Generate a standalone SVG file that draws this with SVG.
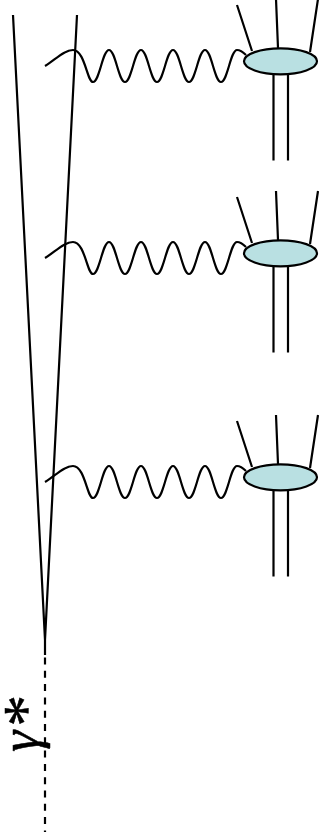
<svg xmlns="http://www.w3.org/2000/svg" width="323" height="840" viewBox="0 0 323 840">
<style>
.l{fill:none;stroke:#000;stroke-width:2.200}
.b{fill:#b9e0e2;stroke:#000;stroke-width:2.200}
.t{font-family:"Liberation Serif","DejaVu Serif",serif;font-size:54px;fill:#000}
.g{font-style:italic;stroke:#000;stroke-width:.5}
</style>
<defs>
<path id="wave" class="l" d="M45 66C55 60 64 50 73 50C85 50 87 82 93 82C99.500 82 102.500 50 109 50C115.500 50 118.500 82 125 82C131.500 82 134.500 50 141 50C147.500 50 150.500 82 157 82C163.500 82 166.500 50 173 50C179.500 50 182.500 82 189 82C195.500 82 198.500 50 205 50C211.500 50 214.500 82 221 82C227.500 82 230.500 50 237 50C241 50 243 52 246 55"/>
<g id="blob">
<path class="l" d="M237 5L252 51M276 -1L278 48M318 -1L310 52M273.500 75V160.500M288 75V160.500"/>
<ellipse class="b" cx="280.500" cy="61.300" rx="36.500" ry="13"/>
</g>
</defs>
<g id="connectors">
<path class="l" d="M13 15L45 640L77 15"/>
<path class="l" d="M45 640V655"/>
<path class="l" stroke-dasharray="7 6.300" d="M45 657.500V832"/>
<use href="#wave"/>
<use href="#wave" y="192"/>
<use href="#wave" y="416"/>
</g>
<g id="node1"><use href="#blob"/></g>
<g id="node2"><use href="#blob" y="192"/></g>
<g id="node3"><use href="#blob" y="416"/></g>
<g id="label"><text class="t" transform="translate(38 752) rotate(-90)"><tspan class="g">γ</tspan><tspan dx="4" dy="9" font-size="64" stroke="#000" stroke-width=".5">*</tspan></text></g>
</svg>
